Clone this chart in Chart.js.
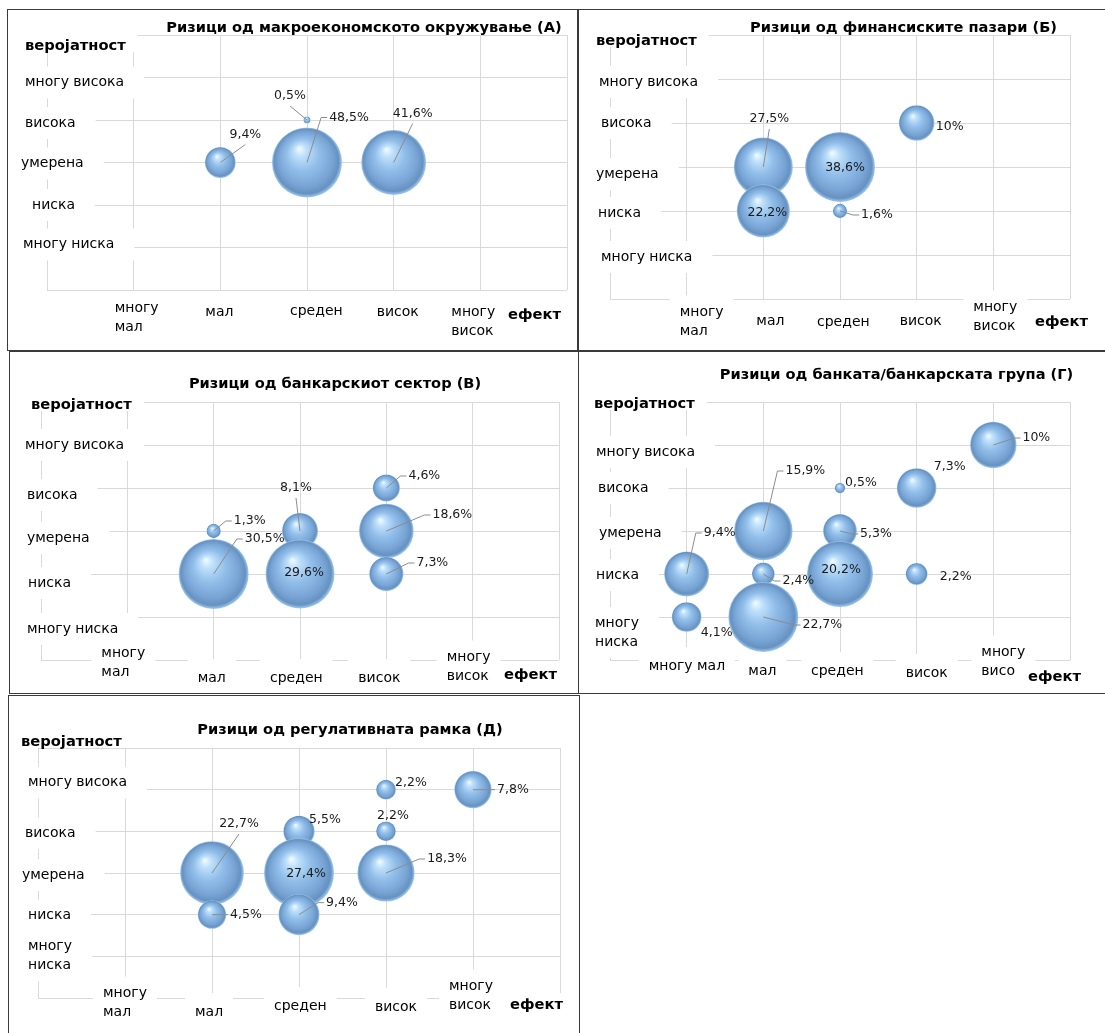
<!DOCTYPE html>
<html>
<head>
<meta charset="utf-8">
<title>Ризици</title>
<script src="https://cdn.jsdelivr.net/npm/chart.js"></script>
<style>
  html, body { margin: 0; padding: 0; background: #fff; }
  body { position: relative; width: 1105px; height: 1033px; overflow: hidden; }
  .frame { position: absolute; box-sizing: border-box; border: 1px solid #3a3a3a; }
  canvas { position: absolute; left: 0; top: 0; }
</style>
</head>
<body>
<script>
// категории на оските
var effectKeys = ['многу мал', 'мал', 'среден', 'висок', 'многу висок'];
var probKeys = ['многу ниска', 'ниска', 'умерена', 'висока', 'многу висока'];
var effectTitle = 'ефект';
var probTitle = 'веројатност';

// текст на ознаките (\n = нов ред)
var effectTicks = ['многу\nмал', 'мал', 'среден', 'висок', 'многу\nвисок'];
var effectTicksG = ['многу мал', 'мал', 'среден', 'висок', 'многу\nвисок'];
var probTicks = ['многу ниска', 'ниска', 'умерена', 'висока', 'многу висока'];
var probTicksWrap = ['многу\nниска', 'ниска', 'умерена', 'висока', 'многу висока'];

// (А) макроекономско окружување
var titleA = 'Ризици од макроекономското окружување (А)';
var effectA = ['среден', 'мал', 'среден', 'висок'];
var probA = ['висока', 'умерена', 'умерена', 'умерена'];
var shareA = [0.5, 9.4, 48.5, 41.6];

// (Б) финансиски пазари
var titleB = 'Ризици од финансиските пазари (Б)';
var effectB = ['висок', 'мал', 'среден', 'мал', 'среден'];
var probB = ['висока', 'умерена', 'умерена', 'ниска', 'ниска'];
var shareB = [10, 27.5, 38.6, 22.2, 1.6];

// (В) банкарски сектор
var titleV = 'Ризици од банкарскиот сектор (В)';
var effectV = ['висок', 'мал', 'среден', 'висок', 'мал', 'среден', 'висок'];
var probV = ['висока', 'умерена', 'умерена', 'умерена', 'ниска', 'ниска', 'ниска'];
var shareV = [4.6, 1.3, 8.1, 18.6, 30.5, 29.6, 7.3];

// (Г) банка / банкарска група
var titleG = 'Ризици од банката/банкарската група (Г)';
var effectG = ['многу висок', 'среден', 'висок', 'мал', 'среден', 'многу мал', 'мал', 'среден', 'висок', 'многу мал', 'мал'];
var probG = ['многу висока', 'висока', 'висока', 'умерена', 'умерена', 'ниска', 'ниска', 'ниска', 'ниска', 'многу ниска', 'многу ниска'];
var shareG = [10, 0.5, 7.3, 15.9, 5.3, 9.4, 2.4, 20.2, 2.2, 4.1, 22.7];

// (Д) регулативна рамка
var titleD = 'Ризици од регулативната рамка (Д)';
var effectD = ['висок', 'многу висок', 'среден', 'висок', 'мал', 'среден', 'висок', 'мал', 'среден'];
var probD = ['многу висока', 'многу висока', 'висока', 'висока', 'умерена', 'умерена', 'умерена', 'ниска', 'ниска'];
var shareD = [2.2, 7.8, 5.5, 2.2, 22.7, 27.4, 18.3, 4.5, 9.4];

var FONT = '"DejaVu Sans", Verdana, sans-serif';
var LINE = 19;
var MAX_R = 35;

function fmt(v) { return String(v).replace('.', ',') + '%'; }

// 3D топче
function ballFill(c) {
  var ch = c.chart;
  if (c.type !== 'data' || !ch.scales.x || !c.raw) return '#8ab8e6';
  var x = ch.scales.x.getPixelForValue(c.raw.x);
  var y = ch.scales.y.getPixelForValue(c.raw.y);
  var r = c.raw.r;
  if (!isFinite(x) || !isFinite(y) || !isFinite(r) || r <= 0) return '#8ab8e6';
  var g = ch.ctx.createRadialGradient(x - r * 0.22, y - r * 0.4, r * 0.03, x, y, r);
  g.addColorStop(0, '#eaf8ff');
  g.addColorStop(0.15, '#bfe0fb');
  g.addColorStop(0.45, '#91bee9');
  g.addColorStop(0.78, '#76a3d3');
  g.addColorStop(0.92, '#6691c0');
  g.addColorStop(1, '#a0ccf2');
  return g;
}

function measure(ctx, lines) {
  var w = 0;
  lines.forEach(function (l) { w = Math.max(w, ctx.measureText(l).width); });
  return w;
}

function putBox(ctx, it) {
  ctx.font = it.f;
  it.lines = it.t.split('\n');
  var w = measure(ctx, it.lines);
  ctx.fillStyle = '#fff';
  ctx.fillRect(it.x - it.pad[0], it.y - it.pad[2], w + it.pad[0] + it.pad[1], (it.lines.length - 1) * LINE + it.pad[2] + it.pad[3]);
}

function putText(ctx, it) {
  ctx.font = it.f;
  ctx.fillStyle = '#000';
  it.lines.forEach(function (l, k) { ctx.fillText(l, it.x, it.y + k * LINE); });
}

var textPlugin = {
  id: 'riskText',
  beforeDatasetsDraw: function (chart) {
    var c = chart.canvas._cfg, ctx = chart.ctx, a = chart.chartArea;
    var sx = chart.scales.x, sy = chart.scales.y;
    var norm = '14px ' + FONT, bold = 'bold 14.7px ' + FONT;
    var items = [];
    c.xTicks.forEach(function (t, i) {
      var two = t.indexOf('\n') >= 0;
      items.push({ t: t, f: norm, x: sx.getPixelForValue(i + 1) + c.xt[0][i], y: a.bottom + c.xt[1][i], pad: two ? [10, 10, 16.5, 14] : [10, 10, 19, 14] });
    });
    c.yTicks.forEach(function (t, i) {
      items.push({ t: t, f: norm, x: a.left + c.yt[0][i], y: sy.getPixelForValue(i + 1) + c.yt[1][i], pad: [10, 20, 16, 16] });
    });
    items.push({ t: probTitle, f: bold, x: a.left + c.veroj[0], y: a.top + c.veroj[1], pad: [4, 12, 12, 6] });
    var ef = { t: effectTitle, f: bold, x: a.right + c.efekt[0], y: a.bottom + c.efekt[1], pad: [12, 4, 12, 12] };

    ctx.save();
    ctx.textBaseline = 'middle';
    ctx.textAlign = 'left';
    // прво белите полиња, па текстот
    items.forEach(function (it) { putBox(ctx, it); });
    items.forEach(function (it) { putText(ctx, it); });
    putBox(ctx, ef);
    putText(ctx, ef);
    ctx.font = 'bold 14.6px ' + FONT;
    ctx.fillStyle = '#000';
    ctx.textAlign = 'center';
    ctx.fillText(c.title, (a.left + a.right) / 2 + c.titlePos[0], a.top + c.titlePos[1]);
    ctx.restore();
  },
  afterDatasetsDraw: function (chart) {
    var c = chart.canvas._cfg, ctx = chart.ctx;
    var meta = chart.getDatasetMeta(0);
    ctx.save();
    ctx.font = '12.5px ' + FONT;
    ctx.textBaseline = 'middle';
    ctx.textAlign = 'center';
    meta.data.forEach(function (el, i) {
      var off = c.lab[i];
      var txt = fmt(chart.data.datasets[0].data[i].v);
      var w = ctx.measureText(txt).width;
      var lx = el.x + off[0], ly = el.y + off[1];
      ctx.strokeStyle = '#8c8c8c';
      ctx.lineWidth = 1;
      if (off[2] === 1) {
        ctx.beginPath();
        ctx.moveTo(el.x, el.y);
        ctx.lineTo(lx, off[1] < 0 ? ly + 10 : ly - 10);
        ctx.stroke();
      } else if (off[2] === 2) {
        ctx.beginPath();
        ctx.moveTo(el.x, el.y);
        ctx.lineTo(lx - w / 2 - 8, ly);
        ctx.lineTo(lx - w / 2 - 2, ly);
        ctx.stroke();
      }
      ctx.fillStyle = '#1a1a1a';
      ctx.fillText(txt, lx, ly);
    });
    ctx.restore();
  }
};

function frame(l, t, w, h) {
  var d = document.createElement('div');
  d.className = 'frame';
  d.style.left = l + 'px'; d.style.top = t + 'px';
  d.style.width = w + 'px'; d.style.height = h + 'px';
  document.body.appendChild(d);
}

function panel(cfg) {
  var cv = document.createElement('canvas');
  cv.width = 1105; cv.height = 1033;
  cv._cfg = cfg;
  document.body.appendChild(cv);
  var maxV = Math.max.apply(null, cfg.share);
  var pts = cfg.share.map(function (v, i) {
    return {
      x: effectKeys.indexOf(cfg.effect[i]) + 1,
      y: probKeys.indexOf(cfg.prob[i]) + 1,
      r: MAX_R * Math.sqrt(v / maxV),
      v: v
    };
  });
  var axis = {
    type: 'linear', min: 0, max: 6,
    ticks: { display: false, stepSize: 1 },
    grid: { color: '#d9d9d9', lineWidth: 1, drawTicks: false },
    border: { display: false }
  };
  new Chart(cv, {
    type: 'bubble',
    data: { datasets: [{ data: pts, backgroundColor: ballFill, borderWidth: 0 }] },
    options: {
      responsive: false,
      animation: false,
      events: [],
      layout: { padding: { left: cfg.area[0], top: cfg.area[1], right: 1105 - cfg.area[2], bottom: 1033 - cfg.area[3] } },
      plugins: { legend: { display: false }, tooltip: { enabled: false } },
      scales: { x: axis, y: Object.assign({}, axis) }
    },
    plugins: [textPlugin]
  });
}

frame(7, 9, 571, 342);
frame(578, 9, 540, 342);
frame(9, 351, 570, 343);
frame(578, 351, 540, 343);
frame(8, 695, 572, 400);

panel({
  title: titleA, effect: effectA, prob: probA, share: shareA,
  xTicks: effectTicks, yTicks: probTicks,
  area: [47, 35, 567, 290],
  xt: [[-19, -15, -17, -17, -29], [18, 22, 21, 22, 22]],
  yt: [[-24, -15, -26, -22, -22], [-3, 0, 1, 3, 5]],
  titlePos: [57, -7], veroj: [-22, 11], efekt: [-59, 25],
  lab: [[-17, -24, 1], [25, -28, 1], [42, -45, 2], [19, -49, 1]]
});

panel({
  title: titleB, effect: effectB, prob: probB, share: shareB,
  xTicks: effectTicks, yTicks: probTicks,
  area: [610, 35, 1081, 299],
  xt: [[-7, -7, -23, -17, -20], [13, 22, 23, 22, 8]],
  yt: [[-9, -12, -14, -9, -11], [2, 2, 7, 0, 3]],
  titlePos: [63.5, -7], veroj: [-14, 6], efekt: [-35, 23],
  lab: [[33, 4, 0], [6, -48, 1], [5, 1, 0], [4, 2, 0], [37, 4, 2]]
});

panel({
  title: titleV, effect: effectV, prob: probV, share: shareV,
  xTicks: effectTicks, yTicks: probTicks,
  area: [41, 402, 559, 660],
  xt: [[-26, -16, -30, -28, -26], [-7, 18, 18, 18, -3]],
  yt: [[-14, -13, -14, -14, -16], [12, 9, 7, 7, 0]],
  titlePos: [35, -18], veroj: [-10, 3], efekt: [-55, 15],
  lab: [[38, -12, 2], [36, -10, 2], [-4, -43, 1], [66, -16, 2], [51, -35, 2], [4, -1, 0], [46, -11, 2]]
});

panel({
  title: titleG, effect: effectG, prob: probG, share: shareG,
  xTicks: effectTicksG, yTicks: probTicksWrap,
  area: [610, 402, 1091, 660],
  xt: [[-38, -15, -29, -11, -12], [6, 11, 11, 13, -8]],
  yt: [[-15, -14, -11, -12, -14], [6, 1, 2, 0, 7]],
  titlePos: [56.5, -27], veroj: [-16, 2], efekt: [-42, 17],
  lab: [[43, -7, 2], [21, -5, 0], [33, -21, 0], [42, -60, 2], [36, 3, 2], [33, -41, 2], [35, 7, 2], [1, -4, 0], [39, 3, 0], [30, 16, 0], [59, 8, 2]]
});

panel({
  title: titleD, effect: effectD, prob: probD, share: shareD,
  xTicks: effectTicks, yTicks: probTicksWrap,
  area: [38, 748, 560, 1004],
  xt: [[-22, -17, -25, -11, -24], [-5, 14, 8, 9, -12]],
  yt: [[-10, -10, -16, -13, -10], [-10, 1, 2, 2, -7]],
  titlePos: [51, -18], veroj: [-17, -6], efekt: [-50, 7],
  lab: [[25, -7, 0], [40, 0, 2], [26, -12, 0], [7, -16, 0], [27, -49, 1], [7, 1, 0], [61, -14, 2], [34, 0, 2], [43, -12, 2]]
});
</script>
</body>
</html>
